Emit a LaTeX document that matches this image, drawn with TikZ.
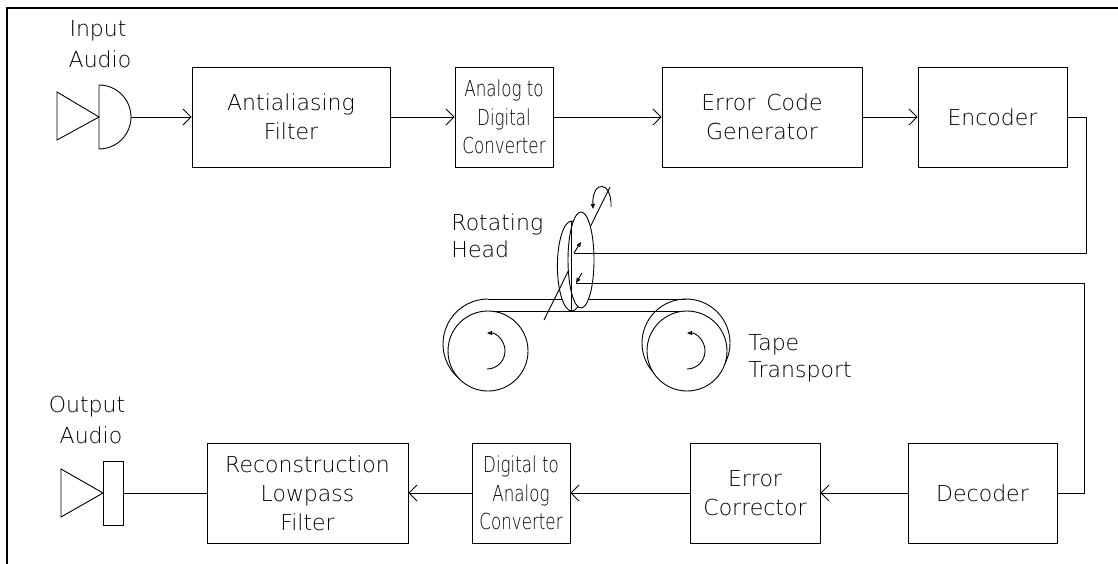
\documentclass[tikz,border=0pt]{standalone}
\usepackage{fontspec}
\setmainfont{DejaVu Sans}[UprightFont=* ExtraLight]
\newfontfamily\narrowface{DejaVu Sans}[UprightFont=* ExtraLight,FakeStretch=0.76]
\usetikzlibrary{arrows.meta}
\definecolor{tipgreen}{RGB}{0,150,0}
\begin{document}
\begin{tikzpicture}[x=1pt,y=-1pt,line width=0.9pt,
  txt/.style={font=\fontsize{22}{29}\selectfont},
  narrow/.style={font=\narrowface\fontsize{22}{28.5}\selectfont},
  box/.style={draw,txt,inner sep=0pt,align=center},
  lbl/.style={txt,inner sep=0pt},
  flow/.style={-{Straight Barb[length=8pt,width=16pt]}},
  spin/.style={-{Triangle[length=5pt,width=4pt,fill=tipgreen]},draw=black}]
\useasboundingbox (0,0) rectangle (1118,564);
% frame
\draw[line width=1.2pt] (7,564) -- (7,8) -- (1118,8);

% ---- recording chain ----
\node[box,minimum width=198pt,minimum height=100pt] (aa)  at (291,117)   {Antialiasing\\Filter};
\node[box,narrow,minimum width=98pt, minimum height=100pt] (adc) at (504,117)   {Analog to\\Digital\\Converter};
\node[box,minimum width=200pt,minimum height=100pt] (ecg) at (762,117)   {Error\enspace Code\\Generator};
\node[box,minimum width=149pt,minimum height=100pt] (enc) at (992.5,117) {Encoder};

% ---- playback chain ----
\node[box,minimum width=201pt,minimum height=100pt] (rlf) at (307.5,493) {Reconstruction\\Lowpass\\Filter};
\node[box,narrow,minimum width=98pt, minimum height=100pt] (dac) at (521,493)   {Digital to\\Analog\\Converter};
\node[box,minimum width=130pt,minimum height=100pt] (ec)  at (755,493)   {Error\\Corrector};
\node[box,minimum width=149pt,minimum height=100pt] (dec) at (982.5,493) {Decoder};

% ---- microphone ----
\draw (57,92) -- (99,117) -- (57,140) -- cycle;
\draw (99,85) arc[start angle=-90,end angle=90,radius=32] -- cycle;
\coordinate (mic) at (131,117);
\node[lbl,anchor=base] (inA) at (98,37) {Input};
\node[lbl,anchor=base] (inB) at (100,68) {Audio};

% ---- loudspeaker ----
\draw (61,469) -- (103,493) -- (61,517) -- cycle;
\draw (103,461) rectangle (123,525);
\coordinate (spk) at (123,493);
\node[lbl,anchor=base] (outA) at (87,412) {Output};
\node[lbl,anchor=base] (outB) at (91,443) {Audio};

% ---- tape transport ----
\draw (488,299) -- (686,299);
\draw (488,311) -- (687,311);
\draw (488,344) ++(-90:45) arc[start angle=-90,end angle=-250,radius=45];
\draw (686,343) circle[radius=44];
\draw[fill=white] (488,351) circle[radius=40];
\draw[fill=white] (687,351) circle[radius=40];
\draw[spin] (487,369) arc[start angle=90,end angle=-90,radius=18];
\draw[spin] (687,369) arc[start angle=90,end angle=-90,radius=18];
\node[lbl,anchor=base west] (tpA) at (748,350) {Tape};
\node[lbl,anchor=base west] (tpB) at (748,377) {Transport};

% ---- rotating head ----
\draw[fill=white] (571.7,266) ellipse[x radius=14.3,y radius=45];
\draw (610,187) -- (544,320);
\draw[fill=white] (581,260) ellipse[x radius=13,y radius=48];
\draw (571.7,221) -- (571.7,311);
\coordinate (hw) at (574,253);
\coordinate (hr) at (576,283);
\draw[spin] (hw) -- (581,242);
\draw[spin] (582,273) -- (hr);
\draw[spin] (611,207) .. controls (612,180) and (592,180) .. (593,209);
\node[lbl,anchor=base west] (rhA) at (451,230) {Rotating};
\node[lbl,anchor=base west] (rhB) at (451,257) {Head};

% ---- connectors ----
\draw[flow] (mic) -- (aa.west);
\draw[flow] (aa) -- (adc);
\draw[flow] (adc) -- (ecg);
\draw[flow] (ecg) -- (enc);
\draw (enc.east) -- (1086,117) -- (1086,253) -- (hw);
\draw (hr) -- (1084,283) -- (1084,493) -- (dec.east);
\draw[flow] (dec) -- (ec);
\draw[flow] (ec) -- (dac);
\draw[flow] (dac) -- (rlf);
\draw (rlf.west) -- (spk);
\end{tikzpicture}
\end{document}
